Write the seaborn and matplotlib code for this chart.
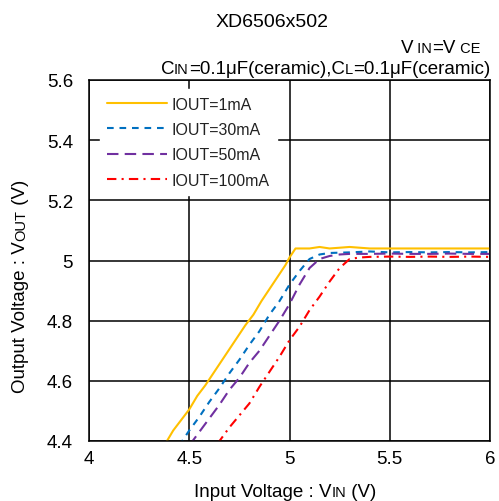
import numpy as np
import pandas as pd
import matplotlib
matplotlib.use('Agg')
import matplotlib.pyplot as plt
from matplotlib.transforms import IdentityTransform
import seaborn as sns

# Series (input voltage vs output voltage)
vin_1 = [4.38, 4.42, 4.46, 4.50, 4.54, 4.58, 4.62, 4.66, 4.70, 4.74, 4.78, 4.82, 4.86,
         4.90, 4.94, 4.98, 5.00, 5.03, 5.06, 5.10, 5.15, 5.20, 5.30, 5.40, 5.50, 5.60,
         5.70, 5.80, 5.90, 6.00]
vout_1 = [4.39, 4.435, 4.47, 4.505, 4.55, 4.585, 4.625, 4.665, 4.705, 4.745, 4.785, 4.82,
          4.865, 4.905, 4.945, 4.985, 5.01, 5.04, 5.04, 5.04, 5.045, 5.04, 5.045, 5.04,
          5.04, 5.04, 5.04, 5.04, 5.04, 5.04]

vin_30 = [4.45, 4.50, 4.55, 4.60, 4.65, 4.70, 4.75, 4.80, 4.85, 4.90, 4.95, 5.00, 5.05,
          5.10, 5.15, 5.20, 5.30, 5.40, 5.50, 5.60, 5.70, 5.80, 5.90, 6.00]
vout_30 = [4.385, 4.435, 4.48, 4.53, 4.575, 4.625, 4.67, 4.72, 4.765, 4.82, 4.865, 4.92,
           4.965, 5.005, 5.02, 5.025, 5.027, 5.03, 5.027, 5.028, 5.027, 5.028, 5.027, 5.028]

vin_50 = [4.50, 4.55, 4.60, 4.65, 4.70, 4.75, 4.80, 4.85, 4.90, 4.95, 5.00, 5.05, 5.10,
          5.15, 5.20, 5.25, 5.30, 5.40, 5.50, 5.60, 5.70, 5.80, 5.90, 6.00]
vout_50 = [4.385, 4.43, 4.475, 4.52, 4.57, 4.61, 4.66, 4.70, 4.75, 4.80, 4.855, 4.92,
           4.975, 5.005, 5.015, 5.02, 5.022, 5.022, 5.023, 5.022, 5.022, 5.023, 5.022, 5.022]

vin_100 = [4.64, 4.70, 4.75, 4.80, 4.85, 4.90, 4.95, 5.00, 5.05, 5.10, 5.15, 5.20, 5.25,
           5.30, 5.35, 5.40, 5.50, 5.60, 5.70, 5.80, 5.90, 6.00]
vout_100 = [4.39, 4.445, 4.485, 4.525, 4.58, 4.63, 4.68, 4.735, 4.78, 4.835, 4.88, 4.93,
            4.975, 5.005, 5.01, 5.012, 5.013, 5.012, 5.013, 5.012, 5.013, 5.012]

labels = ['IOUT=1mA', 'IOUT=30mA', 'IOUT=50mA', 'IOUT=100mA']
colors = ['#FFC000', '#0070C0', '#7030A0', '#FF0000']
dash_styles = [None, (3.2, 2.8), (5.5, 3), (4.5, 2.5, 1, 2.5)]

x_ticks = [4, 4.5, 5, 5.5, 6]
x_tick_labels = ['4', '4.5', '5', '5.5', '6']
y_ticks = [4.4, 4.6, 4.8, 5.0, 5.2, 5.4, 5.6]
y_tick_labels = ['4.4', '4.6', '4.8', '5', '5.2', '5.4', '5.6']

sns.set_theme(style='white')
plt.rcParams['font.family'] = ['Liberation Sans', 'DejaVu Sans']

W, H = 499, 502
fig = plt.figure(figsize=(W / 100, H / 100), dpi=100)
ax = fig.add_axes([89 / W, 1 - 442 / H, 401 / W, 361 / H])

series = [(vin_1, vout_1), (vin_30, vout_30), (vin_50, vout_50), (vin_100, vout_100)]
for (vx, vy), lab, col, dsh in zip(series, labels, colors, dash_styles):
    df = pd.DataFrame({'vin': vx, 'vout': vy})
    sns.lineplot(data=df, x='vin', y='vout', ax=ax, color=col, label=lab, linewidth=1.5)
    if dsh is not None:
        ax.lines[-1].set_dashes(dsh)

ax.set_xlim(4, 6)
ax.set_ylim(4.4, 5.6)
ax.set_xticks(x_ticks)
ax.set_xticklabels(x_tick_labels)
ax.set_yticks(y_ticks)
ax.set_yticklabels(y_tick_labels)
ax.tick_params(axis='both', length=0, labelsize=13.5, colors='black')
ax.tick_params(axis='x', pad=6.5)
ax.tick_params(axis='y', pad=11.5)
ax.grid(True, color='black', linewidth=1.1)
for sp in ax.spines.values():
    sp.set_color('black')
    sp.set_linewidth(1.1)
ax.set_xlabel('')
ax.set_ylabel('')

leg = ax.legend(loc='upper left', bbox_to_anchor=(0.0275, 0.974), borderaxespad=0,
                frameon=True, fancybox=False, fontsize=11.5, handlelength=3.75,
                handletextpad=0.3, labelspacing=0.65, borderpad=0.45)
leg.get_frame().set_facecolor('white')
leg.get_frame().set_edgecolor('white')
leg.get_frame().set_alpha(1)
for t in leg.get_texts():
    t.set_color('#222222')

renderer = fig.canvas.get_renderer()


def put_parts(parts, x, y_top, align='left', rotation=0):
    """Place text pieces of mixed size on one baseline (pixel coords from top)."""
    texts = []
    for s, size in parts:
        t = fig.text(0, 0, s, fontsize=size, transform=IdentityTransform(), ha='left',
                     va='baseline', rotation=rotation, rotation_mode='anchor', color='black')
        texts.append(t)
    ext = [t.get_window_extent(renderer) for t in texts]
    if rotation:
        # x is the baseline column, y_top is where the text starts (its bottom end)
        pos = H - y_top
        for t, e in zip(texts, ext):
            t.set_position((x, pos))
            pos += e.height
        return
    lens = [e.width for e in ext]
    total = sum(lens)
    pos = x - total if align == 'right' else (x - total / 2 if align == 'center' else x)
    for t, ln in zip(texts, lens):
        t.set_position((pos, H - y_top))
        pos += ln


big, small = 13.5, 10.5
put_parts([('XD6506x502', 14)], 272, 27, align='center')
put_parts([('V', big), (' IN', small), ('=V', big), (' CE', small)], 480, 53, align='right')
put_parts([('C', big), ('IN', small), ('=0.1μF(ceramic),C', big), ('L', small),
           ('=0.1μF(ceramic)', big)], 490, 74, align='right')
put_parts([('Input Voltage : V', big), ('IN', small), (' (V)', big)], 194, 497)
put_parts([('Output Voltage : V', big), ('OUT', small), (' (V)', big)], 25, 393,
          rotation=90)

fig.savefig('out.png', dpi=100)
